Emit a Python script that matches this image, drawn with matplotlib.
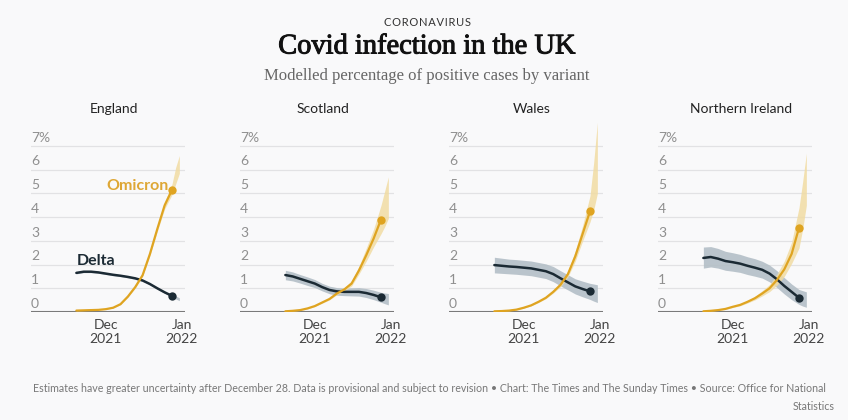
import matplotlib
matplotlib.use("Agg")
import matplotlib.pyplot as plt
import matplotlib.transforms as mtransforms
import matplotlib.patheffects as pe

# ---- data (days counted from 1 Dec 2021) ----
regions = ["England", "Scotland", "Wales", "Northern Ireland"]
days = [-12, -9, -6, -3, 0, 3, 6, 9, 12, 15, 18, 21, 24, 27]
band_days = days + [28.5, 30]

omicron = {
    "England":          [0.06, 0.07, 0.08, 0.09, 0.12, 0.18, 0.33, 0.65, 1.05, 1.55, 2.45, 3.5, 4.5, 5.15],
    "Scotland":         [0.03, 0.05, 0.08, 0.15, 0.25, 0.40, 0.55, 0.78, 0.95, 1.20, 1.75, 2.4, 3.1, 3.90],
    "Wales":            [0.03, 0.04, 0.06, 0.10, 0.18, 0.28, 0.43, 0.60, 0.85, 1.15, 1.60, 2.35, 3.3, 4.25],
    "Northern Ireland": [0.03, 0.05, 0.08, 0.13, 0.22, 0.30, 0.43, 0.58, 0.78, 1.00, 1.35, 1.80, 2.45, 3.55],
}
omicron_lo = {
    "England":          [0.05, 0.06, 0.07, 0.08, 0.11, 0.17, 0.31, 0.62, 1.01, 1.50, 2.38, 3.40, 4.35, 4.95, 5.40, 5.85],
    "Scotland":         [0.02, 0.04, 0.07, 0.13, 0.23, 0.37, 0.51, 0.73, 0.88, 1.10, 1.60, 2.15, 2.75, 3.30, 3.60, 3.95],
    "Wales":            [0.02, 0.03, 0.05, 0.09, 0.16, 0.26, 0.40, 0.56, 0.80, 1.07, 1.48, 2.15, 3.00, 3.80, 4.30, 5.00],
    "Northern Ireland": [0.02, 0.04, 0.07, 0.11, 0.19, 0.26, 0.38, 0.51, 0.68, 0.86, 1.13, 1.50, 2.05, 2.70, 3.50, 4.50],
}
omicron_hi = {
    "England":          [0.07, 0.08, 0.09, 0.10, 0.13, 0.19, 0.35, 0.68, 1.09, 1.60, 2.52, 3.60, 4.65, 5.40, 6.10, 6.60],
    "Scotland":         [0.04, 0.06, 0.09, 0.17, 0.27, 0.43, 0.60, 0.84, 1.03, 1.32, 1.92, 2.70, 3.50, 4.50, 5.10, 5.70],
    "Wales":            [0.04, 0.05, 0.07, 0.11, 0.20, 0.30, 0.46, 0.64, 0.91, 1.24, 1.74, 2.58, 3.65, 4.90, 6.30, 8.00],
    "Northern Ireland": [0.04, 0.06, 0.09, 0.15, 0.25, 0.34, 0.48, 0.66, 0.90, 1.16, 1.60, 2.15, 2.95, 4.40, 5.50, 6.70],
}
delta = {
    "England":          [1.65, 1.70, 1.70, 1.67, 1.62, 1.57, 1.53, 1.48, 1.42, 1.33, 1.18, 1.00, 0.83, 0.68],
    "Scotland":         [1.56, 1.50, 1.40, 1.30, 1.20, 1.05, 0.93, 0.87, 0.85, 0.85, 0.85, 0.80, 0.72, 0.62],
    "Wales":            [1.98, 1.95, 1.92, 1.90, 1.87, 1.84, 1.78, 1.72, 1.60, 1.42, 1.25, 1.08, 0.97, 0.87],
    "Northern Ireland": [2.28, 2.32, 2.25, 2.15, 2.10, 2.04, 1.95, 1.87, 1.78, 1.62, 1.38, 1.10, 0.85, 0.60],
}
delta_lo = {
    "England":          [1.61, 1.66, 1.66, 1.63, 1.58, 1.53, 1.49, 1.44, 1.38, 1.29, 1.14, 0.96, 0.79, 0.63, 0.55, 0.48],
    "Scotland":         [1.36, 1.31, 1.22, 1.12, 1.03, 0.89, 0.77, 0.71, 0.69, 0.68, 0.67, 0.61, 0.52, 0.41, 0.35, 0.30],
    "Wales":            [1.65, 1.63, 1.61, 1.59, 1.56, 1.53, 1.47, 1.41, 1.28, 1.10, 0.93, 0.76, 0.64, 0.53, 0.46, 0.40],
    "Northern Ireland": [1.85, 1.90, 1.85, 1.76, 1.72, 1.67, 1.58, 1.51, 1.43, 1.27, 1.03, 0.76, 0.52, 0.32, 0.25, 0.20],
}
delta_hi = {
    "England":          [1.69, 1.74, 1.74, 1.71, 1.66, 1.61, 1.57, 1.52, 1.46, 1.37, 1.22, 1.04, 0.87, 0.73, 0.68, 0.60],
    "Scotland":         [1.76, 1.69, 1.58, 1.48, 1.37, 1.21, 1.09, 1.03, 1.01, 1.02, 1.03, 0.99, 0.92, 0.83, 0.80, 0.78],
    "Wales":            [2.31, 2.27, 2.23, 2.21, 2.18, 2.15, 2.09, 2.03, 1.92, 1.74, 1.57, 1.40, 1.30, 1.21, 1.18, 1.15],
    "Northern Ireland": [2.74, 2.76, 2.68, 2.56, 2.50, 2.43, 2.33, 2.25, 2.14, 1.98, 1.74, 1.45, 1.18, 0.95, 0.90, 0.85],
}

y_ticks = [0, 1, 2, 3, 4, 5, 6, 7]
y_tick_labels = ["0", "1", "2", "3", "4", "5", "6", "7%"]
x_ticks = [0, 31]
x_tick_labels = ["Dec\n2021", "Jan\n2022"]

# ---- style ----
BG = "#f9f9fa"
OMI = "#dfa421"
OMI_BAND = "#f1dca3"
DEL = "#1b2a34"
DEL_BAND = "#b4bfc7"
SANS = ["Lato", "DejaVu Sans"]
SERIF = ["Liberation Serif", "DejaVu Serif"]

fig = plt.figure(figsize=(8.48, 4.2), dpi=100, facecolor=BG)
W, H = 848, 420

lefts = [31, 240, 449, 658]
ax_w = 154
ax_bottom = 312
ax_top = 120

for i, reg in enumerate(regions):
    ax = fig.add_axes([lefts[i] / W, (H - ax_bottom) / H, ax_w / W, (ax_bottom - ax_top) / H])
    ax.set_facecolor("none")
    ax.set_xlim(-30.5, 32.3)
    ax.set_ylim(0, 8.1)
    for s in ax.spines.values():
        s.set_visible(False)
    ax.set_yticks([])
    ax.set_xticks(x_ticks)
    ax.set_xticklabels(x_tick_labels, fontsize=10, color="#444444", family=SANS, linespacing=1.25)
    ax.tick_params(axis="x", length=0, pad=5)

    trans = mtransforms.blended_transform_factory(ax.transAxes, ax.transData)
    for v, lab in zip(y_ticks, y_tick_labels):
        if v == 0:
            ax.axhline(0, color="#7a7a7a", lw=1.5, zorder=1)
        else:
            ax.axhline(v, color="#e2e2e4", lw=0.9, zorder=0)
        ax.text(0.0, v + 0.1, lab, transform=trans, ha="left", va="bottom",
                fontsize=10, color="#8f8f8f", family=SANS)

    # bands
    ax.fill_between(band_days, delta_lo[reg], delta_hi[reg], color=DEL_BAND, lw=0, zorder=2, alpha=0.9)
    ax.fill_between(band_days, omicron_lo[reg], omicron_hi[reg], color=OMI_BAND, lw=0, zorder=3, alpha=0.85)
    # lines
    ax.plot(days, delta[reg], color=DEL, lw=1.8, zorder=4, solid_capstyle="round")
    ax.plot(days, omicron[reg], color=OMI, lw=1.6, zorder=5, solid_capstyle="round")
    ax.plot(days[-1], delta[reg][-1], "o", color=DEL, ms=6, zorder=6, mec="none")
    ax.plot(days[-1], omicron[reg][-1], "o", color=OMI, ms=6, zorder=6, mec="none")

    ax.text(0.54, (H - 109 - (H - ax_bottom)) / (ax_bottom - ax_top), reg, transform=ax.transAxes,
            ha="center", va="center", fontsize=10, color="#222222", family=SANS)

    if reg == "England":
        ax.text(25.5, 5.3, "Omicron", ha="right", va="center", fontsize=11.5,
                fontweight="bold", color="#dea735", family=SANS, zorder=7)
        ax.text(-12, 2.15, "Delta", ha="left", va="center", fontsize=11.5,
                fontweight="bold", color=DEL, family=SANS, zorder=7)

# ---- titles ----
fig.text(427 / W, 1 - 22 / H, "\u200a".join("CORONAVIRUS"), ha="center", va="center",
         fontsize=8, color="#333333", family=SANS)
fig.text(427 / W, 1 - 47 / H, "Covid infection in the UK", ha="center", va="center",
         fontsize=20.5, color="#111111", family=SERIF,
         path_effects=[pe.withStroke(linewidth=0.7, foreground="#111111")])
fig.text(427 / W, 1 - 76 / H, "Modelled percentage of positive cases by variant", ha="center", va="center",
         fontsize=12, color="#666666", family=SERIF)

# ---- footer ----
fig.text(33 / W, 1 - 389 / H,
         "Estimates have greater uncertainty after December 28. Data is provisional and subject to revision \u2022 "
         "Chart: The Times and The Sunday Times \u2022 Source: Office for National",
         ha="left", va="center", fontsize=7.65, color="#777777", family=SANS)
fig.text(835 / W, 1 - 407 / H, "Statistics", ha="right", va="center",
         fontsize=7.65, color="#777777", family=SANS)

fig.savefig("out.png", dpi=100, facecolor=BG)
